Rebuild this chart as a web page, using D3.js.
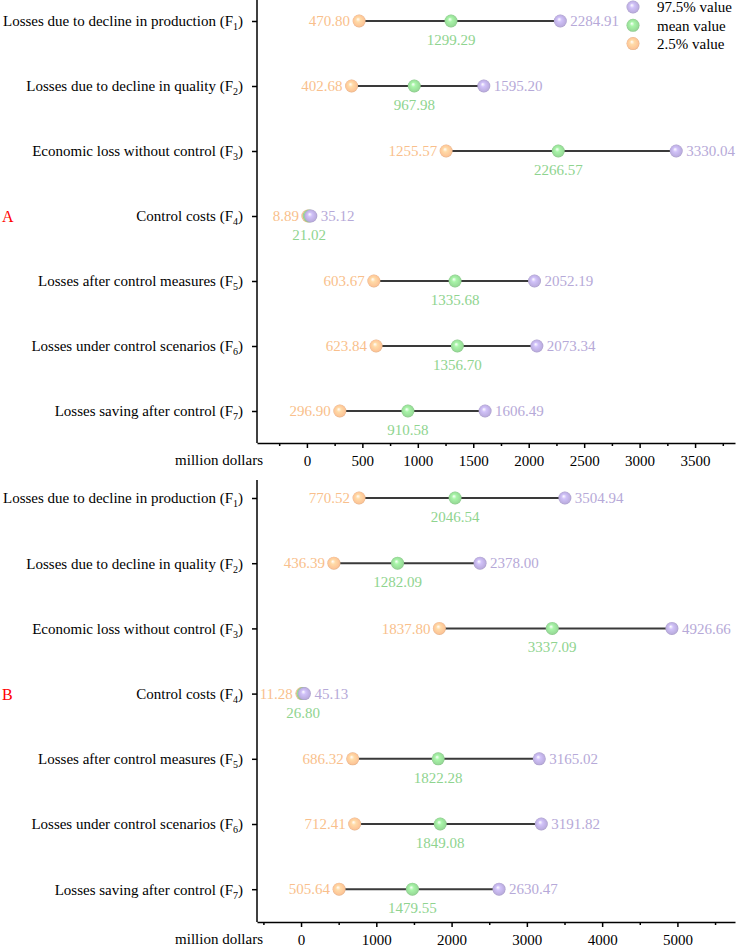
<!DOCTYPE html>
<html>
<head>
<meta charset="utf-8">
<script src="https://cdn.jsdelivr.net/npm/d3@7"></script>
<style>
  body { margin: 0; background: #fff; }
</style>
</head>
<body>
<div id="chart"></div>
<script>
// DATA
const categoryNames = [
    "Losses due to decline in production (F",
    "Losses due to decline in quality (F",
    "Economic loss without control (F",
    "Control costs (F",
    "Losses after control measures (F",
    "Losses under control scenarios (F",
    "Losses saving after control (F"
];
const categorySubs = ["1", "2", "3", "4", "5", "6", "7"];

// panel A
const lowA  = [470.80, 402.68, 1255.57, 8.89, 603.67, 623.84, 296.90];
const meanA = [1299.29, 967.98, 2266.57, 21.02, 1335.68, 1356.70, 910.58];
const highA = [2284.91, 1595.20, 3330.04, 35.12, 2052.19, 2073.34, 1606.49];
const ticksA = [0, 500, 1000, 1500, 2000, 2500, 3000, 3500];
const minorA = [-250, 250, 750, 1250, 1750, 2250, 2750, 3250, 3750];

// panel B
const lowB  = [770.52, 436.39, 1837.80, 11.28, 686.32, 712.41, 505.64];
const meanB = [2046.54, 1282.09, 3337.09, 26.80, 1822.28, 1849.08, 1479.55];
const highB = [3504.94, 2378.00, 4926.66, 45.13, 3165.02, 3191.82, 2630.47];
const ticksB = [0, 1000, 2000, 3000, 4000, 5000];
const minorB = [-500, 500, 1500, 2500, 3500, 4500, 5500];

const legendLabels = ["97.5% value", "mean value", "2.5% value"];

const FONT = "'Liberation Serif', 'Times New Roman', 'DejaVu Serif', serif";

// COLOR
const markerColor = { high: "#bcaee0", mean: "#98dc98", low: "#fdc597" };
const textColor = { high: "#b6a9d8", mean: "#8fd48f", low: "#f9bf8c" };

const width = 736, height = 945;
const svg = d3.select("#chart").append("svg")
    .attr("width", width)
    .attr("height", height)
    .attr("font-family", FONT);

// sphere gradients
const defs = svg.append("defs");
Object.entries(markerColor).forEach(([k, c]) => {
    const g = defs.append("radialGradient")
        .attr("id", "ball-" + k)
        .attr("cx", "50%").attr("cy", "50%").attr("r", "50%")
        .attr("fx", "40%").attr("fy", "35%");
    g.append("stop").attr("offset", "0%").attr("stop-color", "#ffffff");
    g.append("stop").attr("offset", "35%").attr("stop-color", d3.color(c).brighter(0.3));
    g.append("stop").attr("offset", "85%").attr("stop-color", c);
    g.append("stop").attr("offset", "100%").attr("stop-color", d3.color(c).darker(0.3));
});

function drawPanel(opt) {
    const { low, mean, high, ticks, minor, domain, top, firstRow, step, axisY, letter } = opt;
    const rows = categoryNames.map((d, i) => ({
        name: d, sub: categorySubs[i], low: low[i], mean: mean[i], high: high[i]
    }));

    const x = d3.scaleLinear().domain(domain).range([257, 735]);
    const y = d3.scalePoint()
        .domain(categoryNames)
        .range([firstRow, firstRow + step * (categoryNames.length - 1)]);

    const g = svg.append("g");

    // y axis
    const yAxisGroup = g.append("g")
        .attr("transform", "translate(257,0)")
        .call(d3.axisLeft(y).tickSize(5).tickPadding(9).tickSizeOuter(0));
    yAxisGroup.attr("font-family", FONT);
    yAxisGroup.select(".domain").remove();
    yAxisGroup.selectAll(".tick line").attr("stroke", "#000").attr("stroke-width", 1.5);
    yAxisGroup.selectAll(".tick text")
        .attr("font-size", "15px")
        .attr("fill", "#000")
        .each(function (d, i) {
            const t = d3.select(this).text("");
            t.append("tspan").text(d);
            t.append("tspan").attr("font-size", "10px").attr("dy", 4).text(categorySubs[i]);
            t.append("tspan").attr("dy", -4).text(")");
        });
    g.append("line")
        .attr("x1", 257).attr("x2", 257)
        .attr("y1", top).attr("y2", axisY)
        .attr("stroke", "#000").attr("stroke-width", 1.5);

    // x axis
    const xAxisGroup = g.append("g")
        .attr("transform", `translate(0,${axisY})`)
        .call(d3.axisBottom(x).tickValues(ticks).tickFormat(d3.format("d"))
            .tickSize(5).tickPadding(7).tickSizeOuter(0));
    xAxisGroup.attr("font-family", FONT);
    xAxisGroup.select(".domain").attr("stroke-width", 1.5);
    xAxisGroup.selectAll(".tick line").attr("stroke-width", 1.5);
    xAxisGroup.selectAll(".tick text").attr("font-size", "15px").attr("fill", "#000");

    const minorGroup = g.append("g")
        .attr("transform", `translate(0,${axisY})`)
        .call(d3.axisBottom(x).tickValues(minor).tickSize(3).tickFormat("").tickSizeOuter(0));
    minorGroup.select(".domain").remove();
    minorGroup.selectAll(".tick line").attr("stroke-width", 1.5);

    g.append("text")
        .attr("x", 263).attr("y", axisY + 22)
        .attr("text-anchor", "end")
        .attr("font-size", "15px")
        .text("million dollars");

    // panel letter
    g.append("text")
        .attr("x", 2).attr("y", y(categoryNames[3]) + 6)
        .attr("font-size", "16px")
        .attr("fill", "red")
        .text(letter);

    // dumbbells
    const row = g.selectAll(".row")
        .data(rows)
        .enter().append("g")
        .attr("class", "row")
        .attr("transform", d => `translate(0,${y(d.name)})`);

    row.append("line")
        .attr("x1", d => x(d.low))
        .attr("x2", d => x(d.high))
        .attr("stroke", "#3a3a3a")
        .attr("stroke-width", 2);

    ["low", "mean", "high"].forEach(k => {
        row.append("circle")
            .attr("cx", d => x(d[k]))
            .attr("r", 6.5)
            .attr("fill", `url(#ball-${k})`);
    });

    row.append("text")
        .attr("x", d => x(d.low) - 9)
        .attr("dy", "0.35em")
        .attr("text-anchor", "end")
        .attr("font-size", "15px")
        .attr("fill", textColor.low)
        .text(d => d.low.toFixed(2));

    row.append("text")
        .attr("x", d => x(d.high) + 10)
        .attr("dy", "0.35em")
        .attr("font-size", "15px")
        .attr("fill", textColor.high)
        .text(d => d.high.toFixed(2));

    row.append("text")
        .attr("x", d => x(d.mean))
        .attr("y", 24)
        .attr("text-anchor", "middle")
        .attr("font-size", "15px")
        .attr("fill", textColor.mean)
        .text(d => d.mean.toFixed(2));
}

drawPanel({
    low: lowA, mean: meanA, high: highA, ticks: ticksA, minor: minorA,
    domain: [-450, 3860], top: 0, firstRow: 21, step: 65, axisY: 443, letter: "A"
});

drawPanel({
    low: lowB, mean: meanB, high: highB, ticks: ticksB, minor: minorB,
    domain: [-585, 5765], top: 480, firstRow: 498, step: 65.2, axisY: 922, letter: "B"
});

// LEGEND
const legendKeys = ["high", "mean", "low"];
const legend = svg.append("g").attr("transform", "translate(633,7)");
const legendItem = legend.selectAll(".legend")
    .data(legendLabels)
    .enter().append("g")
    .attr("class", "legend")
    .attr("transform", (d, i) => `translate(0,${i * 18.3})`);

legendItem.append("circle")
    .attr("r", 6.5)
    .attr("fill", (d, i) => `url(#ball-${legendKeys[i]})`);

legendItem.append("text")
    .attr("x", 24)
    .attr("dy", "0.35em")
    .attr("font-size", "15px")
    .text(d => d);
</script>
</body>
</html>
